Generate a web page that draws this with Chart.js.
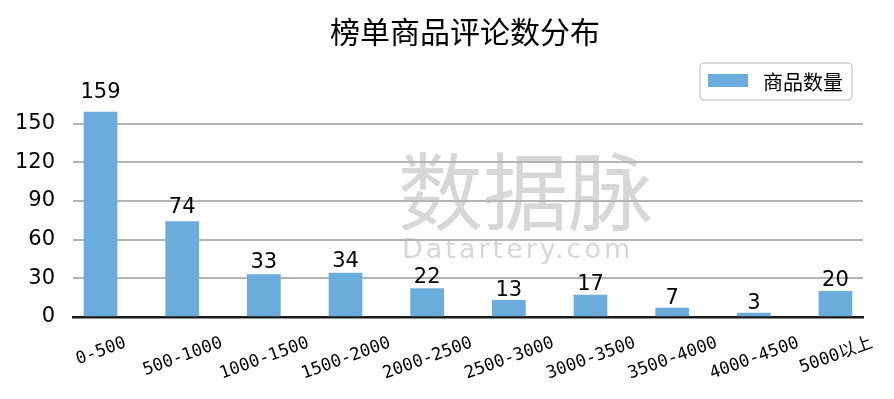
<!DOCTYPE html>
<html>
<head>
<meta charset="utf-8">
<script src="https://cdn.jsdelivr.net/npm/chart.js@4.4.0/dist/chart.umd.min.js"></script>
<style>
  html, body { margin: 0; padding: 0; background: #fff; }
  #wrap { width: 894px; height: 399px; }
</style>
</head>
<body>
<div id="wrap"><canvas id="myChart" width="894" height="399"></canvas></div>
<script>
const categories = ["0-500", "500-1000", "1000-1500", "1500-2000", "2000-2500", "2500-3000", "3000-3500", "3500-4000", "4000-4500", "5000以上"];
const counts = [159, 74, 33, 34, 22, 13, 17, 7, 3, 20];
const yTicks = [0, 30, 60, 90, 120, 150];
const seriesName = "商品数量";
const chartTitle = "榜单商品评论数分布";

const barColor = "#6aacdc";
const cjk = '"Noto Sans CJK SC", "DejaVu Sans", sans-serif';
const numFont = '"DejaVu Sans", "Noto Sans CJK SC", sans-serif';
const monoFont = '"DejaVu Sans Mono", "Noto Sans CJK SC", monospace';

// labels, legend, title and watermark drawn on top of the chart
const decor = {
    id: "decor",
    afterDraw(chart) {
        const ctx = chart.ctx;
        const xs = chart.scales.x;
        const ys = chart.scales.y;
        const area = chart.chartArea;
        const bars = chart.getDatasetMeta(0).data;

        ctx.save();

        // watermark
        ctx.globalAlpha = 0.55;
        ctx.fillStyle = "#b4b6ba";
        ctx.textAlign = "left";
        ctx.textBaseline = "alphabetic";
        ctx.font = "85px " + cjk;
        ctx.fillText("数据脉", 398, 224);
        ctx.font = "27px " + numFont;
        if ("letterSpacing" in ctx) ctx.letterSpacing = "3px";
        ctx.fillText("Datartery.com", 402, 258);
        if ("letterSpacing" in ctx) ctx.letterSpacing = "0px";
        ctx.globalAlpha = 1;

        // value labels above bars
        ctx.fillStyle = "#000";
        ctx.font = "21px " + numFont;
        ctx.textAlign = "center";
        ctx.textBaseline = "alphabetic";
        counts.forEach((v, i) => {
            const y = ys.getPixelForValue(v * 1.05 + 3);
            ctx.fillText(String(v), bars[i].x, y);
        });

        // rotated category labels, centred under each bar
        const ang = 20 * Math.PI / 180;
        const capH = 12.5;
        ctx.font = "17.3px " + monoFont;
        ctx.textAlign = "left";
        categories.forEach((c, i) => {
            const w = ctx.measureText(c).width;
            const h = w * Math.sin(ang) + capH * Math.cos(ang);
            const cx = xs.getPixelForValue(i);
            const cy = area.bottom + 18 + h / 2;
            ctx.save();
            ctx.translate(cx, cy);
            ctx.rotate(-ang);
            ctx.fillText(c, -w / 2, capH / 2);
            ctx.restore();
        });

        // legend
        const lx = 700, ly = 63, lw = 152, lh = 37;
        ctx.beginPath();
        ctx.roundRect(lx, ly, lw, lh, 4);
        ctx.fillStyle = "rgba(255,255,255,0.85)";
        ctx.fill();
        ctx.strokeStyle = "#d0d0d0";
        ctx.lineWidth = 1.5;
        ctx.stroke();
        ctx.fillStyle = chart.data.datasets[0].backgroundColor;
        ctx.fillRect(lx + 8, ly + 11, 40, 13);
        ctx.fillStyle = "#000";
        ctx.font = "20px " + cjk;
        ctx.textBaseline = "middle";
        ctx.fillText(chart.data.datasets[0].label, lx + 63, ly + 19);

        // title
        ctx.font = "30px " + cjk;
        ctx.textAlign = "center";
        ctx.fillText(chartTitle, 465, 32);

        ctx.restore();
    }
};

const ctx = document.getElementById("myChart");
const myChart = new Chart(ctx, {
    type: "bar",
    data: {
        datasets: [
            {
                label: seriesName,
                data: counts.map((v, i) => ({ x: i, y: v })),
                backgroundColor: barColor,
                barThickness: 33,
                borderWidth: 0,
            },
        ],
    },
    options: {
        responsive: false,
        animation: false,
        devicePixelRatio: 1,
        layout: { padding: { left: 0, right: 31, top: 55, bottom: 82 } },
        plugins: {
            legend: { display: false },
            title: { display: false },
            tooltip: { enabled: false },
        },
        scales: {
            x: {
                type: "linear",
                offset: false,
                min: -0.337,
                max: 9.337,
                afterFit: (s) => { s.height = 0; },
                ticks: { display: false },
                grid: { display: false, drawTicks: false },
                border: { display: true, color: "#1a1a1a", width: 2.5 },
            },
            y: {
                min: 0,
                max: 203.3,
                afterBuildTicks: (s) => { s.ticks = yTicks.map((v) => ({ value: v })); },
                afterFit: (s) => { s.width = 73; },
                ticks: {
                    color: "#000",
                    font: { family: numFont, size: 21 },
                    padding: 18,
                },
                grid: { color: "#b4b4b4", lineWidth: 2, drawTicks: false },
                border: { display: false },
            },
        },
    },
    plugins: [decor],
});
</script>
</body>
</html>
